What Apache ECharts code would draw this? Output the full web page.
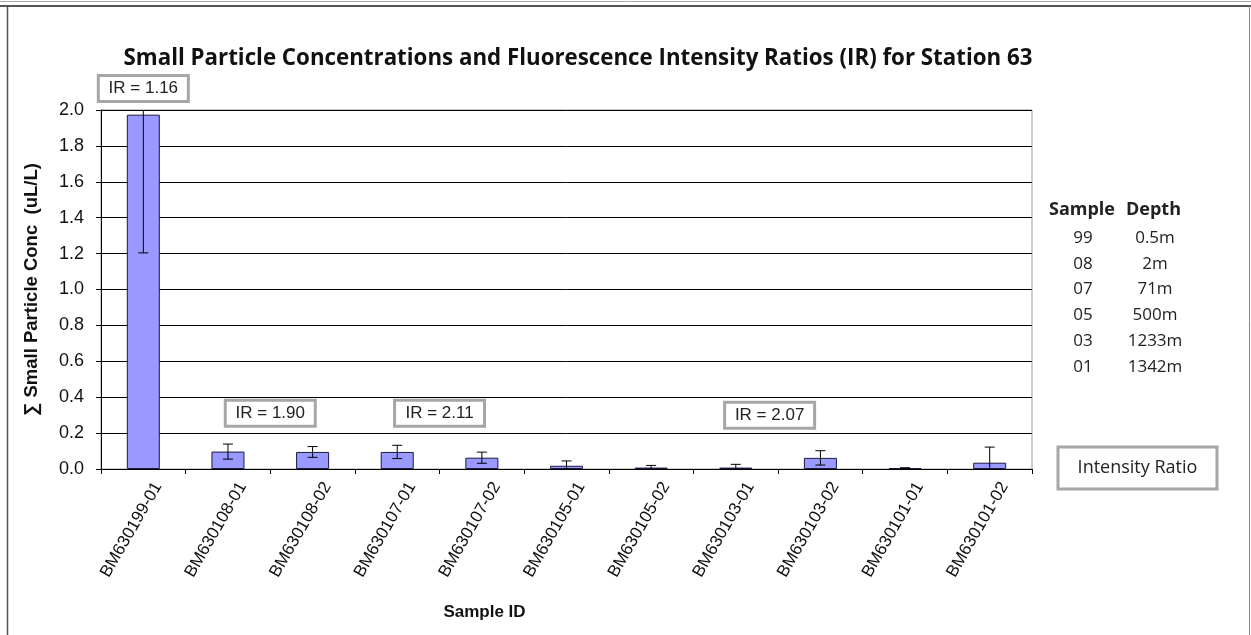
<!DOCTYPE html>
<html>
<head>
<meta charset="utf-8">
<script src="https://cdn.jsdelivr.net/npm/echarts@6/dist/echarts.min.js"></script>
<style>
html,body{margin:0;padding:0;background:#fff;}
#chart{width:1251px;height:635px;}
</style>
</head>
<body>
<div id="chart"></div>
<script>
// ---- data ----
const categories = ['BM630199-01','BM630108-01','BM630108-02','BM630107-01','BM630107-02','BM630105-01','BM630105-02','BM630103-01','BM630103-02','BM630101-01','BM630101-02'];
const concValues = [1.974, 0.097, 0.095, 0.095, 0.063, 0.018, 0.008, 0.008, 0.062, 0.005, 0.035];
const concErrors = [0.77, 0.042, 0.030, 0.037, 0.031, 0.027, 0.012, 0.018, 0.040, 0.002, 0.087];
const irLabels = ['IR = 1.16', 'IR = 1.90', 'IR = 2.11', 'IR = 2.07'];
const irCategoryAt = [0, 1.5, 3.5, 7.4];
const irValueAt = [2.12, 0.31, 0.31, 0.30];
const sampleCodes = ['99','08','07','05','03','01'];
const sampleDepths = ['0.5m','2m','71m','500m','1233m','1342m'];

const chart = echarts.init(document.getElementById('chart'));

const errData = concValues.map((v, i) => [i, v, concErrors[i]]);
const irData = irLabels.map((t, i) => [irCategoryAt[i], irValueAt[i], t]);

const tableGraphics = [];
tableGraphics.push({type:'text', left:1049, top:201, style:{text:'Sample', font:'bold 18px "Open Sans", sans-serif', fill:'#222'}});
tableGraphics.push({type:'text', left:1126, top:201, style:{text:'Depth', font:'bold 18px "Open Sans", sans-serif', fill:'#222'}});
sampleCodes.forEach((c, i) => {
  tableGraphics.push({type:'text', x:1083, y:238 + i*25.8, style:{text:c, font:'17px "Open Sans", sans-serif', fill:'#222', align:'center', verticalAlign:'middle'}});
  tableGraphics.push({type:'text', x:1155, y:238 + i*25.8, style:{text:sampleDepths[i], font:'17px "Open Sans", sans-serif', fill:'#222', align:'center', verticalAlign:'middle'}});
});

const option = {
  animation: false,
  backgroundColor: '#fff',
  title: {
    text: 'Small Particle Concentrations and Fluorescence Intensity Ratios (IR) for Station 63',
    left: 573, top: 43, textAlign: 'center',
    textStyle: {fontFamily: '"Open Sans", sans-serif', fontWeight: 'bold', fontSize: 22.3, color: '#111'}
  },
  grid: {left: 101, right: 219, top: 110, bottom: 166, show: true, borderColor: '#999', borderWidth: 1},
  xAxis: {
    type: 'category', data: categories, boundaryGap: true,
    axisLine: {lineStyle: {color: '#000', width: 1}},
    axisTick: {show: true, alignWithLabel: false, length: 5, lineStyle: {color: '#000'}},
    axisLabel: {rotate: 60, interval: 0, fontFamily: '"Liberation Sans", Arial, sans-serif', fontSize: 17, color: '#111', margin: 6, verticalAlign: 'top', lineHeight: 34},
    name: 'Sample ID', nameLocation: 'middle', nameGap: 143,
    nameTextStyle: {fontFamily: '"Liberation Sans Narrow", "Liberation Sans", Arial, sans-serif', fontWeight: 'bold', fontSize: 17, color: '#111', padding: [0, 164, 0, 0], lineHeight: 20, verticalAlign: 'middle'}
  },
  yAxis: {
    type: 'value', min: 0, max: 2, interval: 0.2,
    axisLine: {show: true, lineStyle: {color: '#000', width: 1}},
    axisTick: {show: true, length: 5, lineStyle: {color: '#000'}},
    axisLabel: {formatter: v => v.toFixed(1), fontFamily: '"Liberation Sans", Arial, sans-serif', fontSize: 18, color: '#111', margin: 17},
    splitLine: {show: true, lineStyle: {color: '#000', width: 1}},
    name: '\u2211 Small Particle Conc  (uL/L)', nameLocation: 'middle', nameRotate: 90, nameGap: 60,
    nameTextStyle: {fontFamily: '"Liberation Sans Narrow", "Liberation Sans", Arial, sans-serif', fontWeight: 'bold', fontSize: 18.5, color: '#111'}
  },
  series: [
    {
      type: 'bar', data: concValues, barWidth: '39%',
      itemStyle: {color: '#9999ff', borderColor: '#1a1a40', borderWidth: 1}
    },
    {
      type: 'custom', clip: true, data: errData, z: 5,
      renderItem: (params, api) => {
        const i = api.value(0), v = api.value(1), e = api.value(2);
        const top = api.coord([i, v + e]);
        const bot = api.coord([i, v - e]);
        const cw = 5;
        return {type: 'group', children: [
          {type: 'line', shape: {x1: top[0], y1: top[1], x2: bot[0], y2: bot[1]}, style: {stroke: '#000', lineWidth: 1}},
          {type: 'line', shape: {x1: top[0]-cw, y1: top[1], x2: top[0]+cw, y2: top[1]}, style: {stroke: '#000', lineWidth: 1}},
          {type: 'line', shape: {x1: bot[0]-cw, y1: bot[1], x2: bot[0]+cw, y2: bot[1]}, style: {stroke: '#000', lineWidth: 1}}
        ]};
      }
    },
    {
      type: 'custom', clip: false, data: irData, z: 10,
      renderItem: (params, api) => {
        const ci = api.value(0), v = api.value(1);
        const text = irLabels[params.dataIndex];
        const base = Math.floor(ci), frac = ci - base;
        const p = api.coord([base, v]);
        const bw = api.size([1, 0])[0];
        const cx = p[0] + frac * bw, cy = p[1];
        const w = 90, h = 26;
        return {type: 'group', children: [
          {type: 'rect', shape: {x: cx - w/2, y: cy - h/2, width: w, height: h}, style: {fill: '#fff', stroke: '#a6a6a6', lineWidth: 3}},
          {type: 'text', x: cx, y: cy, style: {text: text, font: '17px "Liberation Sans", Arial, sans-serif', fill: '#222', align: 'center', verticalAlign: 'middle'}}
        ]};
      }
    }
  ],
  graphic: [
    {type: 'line', shape: {x1: 0, y1: 1.5, x2: 1251, y2: 1.5}, style: {stroke: '#aaa', lineWidth: 1}},
    {type: 'line', shape: {x1: 0, y1: 6, x2: 1251, y2: 6}, style: {stroke: '#555', lineWidth: 2}},
    {type: 'line', shape: {x1: 7.5, y1: 6, x2: 7.5, y2: 635}, style: {stroke: '#555', lineWidth: 1.5}},
    {type: 'line', shape: {x1: 1249.5, y1: 6, x2: 1249.5, y2: 635}, style: {stroke: '#888', lineWidth: 1}},
    {type: 'rect', shape: {x: 1058, y: 447, width: 159, height: 42}, style: {fill: '#fff', stroke: '#a6a6a6', lineWidth: 3}},
    {type: 'text', x: 1137.5, y: 468, style: {text: 'Intensity Ratio', font: '18px "Open Sans", sans-serif', fill: '#222', align: 'center', verticalAlign: 'middle'}}
  ].concat(tableGraphics)
};
chart.setOption(option);
</script>
</body>
</html>
